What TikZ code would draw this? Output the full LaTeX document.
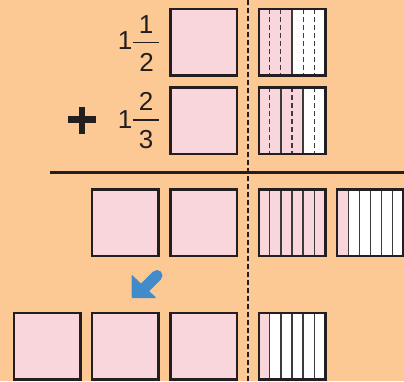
\documentclass[tikz,border=0pt]{standalone}
\usepackage{fontspec}
\setmainfont{Liberation Sans}
\usetikzlibrary{calc}
\definecolor{bgc}{RGB}{252,201,148}
\definecolor{pinkc}{RGB}{249,214,220}
\definecolor{bord}{RGB}{35,31,32}
\definecolor{stripc}{RGB}{60,58,60}
\definecolor{arrowc}{RGB}{66,139,202}
\tikzset{
  sq/.style={minimum size=66.5pt, inner sep=0pt, outer sep=0pt, line width=2.5pt, draw=bord, fill=pinkc},
  sqx/.style={minimum size=66.5pt, inner sep=0pt, outer sep=0pt},
  bordline/.style={line width=2.5pt, draw=bord},
  solidstrip/.style={line width=1.3pt, draw=stripc},
  dashstrip/.style={line width=1.1pt, draw=stripc, dash pattern=on 5pt off 3pt},
  digit/.style={inner sep=0pt, outer sep=0pt, font=\fontsize{26}{26}\selectfont, text=bord},
}
\begin{document}
\begin{tikzpicture}[x=1pt,y=-1pt]
\useasboundingbox (0,0) rectangle (404,381);
\fill[bgc] (0,0) rectangle (404,381);

% divider lines
\coordinate (dtop) at (248,0);
\coordinate (dbot) at (248,381);
\draw[line width=1.2pt, draw=bord, dash pattern=on 5pt off 3pt] (dtop) -- (dbot);
\coordinate (hl) at (50,172);
\coordinate (hr) at (404,172);
\draw[line width=3pt, draw=bord] (hl) -- (hr);

% numbers
\node[digit] (w1) at (125,41) {1};
\node[digit] (n1) at (146,25) {1};
\node[digit] (d1) at (146.5,62.5) {2};
\coordinate (b1l) at (132.5,42.3);
\coordinate (b1r) at (159,42.3);
\draw[line width=1.2pt, draw=bord] (b1l) -- (b1r);

\node[digit] (w2) at (125,119.5) {1};
\node[digit] (n2) at (146,101) {2};
\node[digit] (d2) at (146,139.5) {3};
\coordinate (b2l) at (132.5,120);
\coordinate (b2r) at (159,120);
\draw[line width=1.2pt, draw=bord] (b2l) -- (b2r);

% plus sign
\coordinate (ph1) at (68,119.5);
\coordinate (ph2) at (96,119.5);
\coordinate (pv1) at (82,106.5);
\coordinate (pv2) at (82,133.5);
\draw[line width=6.2pt, draw=bord] (ph1) -- (ph2);
\draw[line width=6.2pt, draw=bord] (pv1) -- (pv2);

% plain squares
\node[sq] (a1) at (203.6,42.2) {};
\node[sq] (a2) at (203.6,120.5) {};
\node[sq] (c3) at (125,222.7) {};
\node[sq] (d3) at (203.6,222.7) {};
\node[sq] (b4) at (47,346.2) {};
\node[sq] (c4) at (125,346.2) {};
\node[sq] (d4) at (203.6,346.2) {};

% strip squares
\newcommand{\stripbox}[5]{%
  % #1 name, #2 position, #3 pink count, #4 solid list, #5 dashed list
  \node[sqx] (#1) at (#2) {};
  \fill[white] (#1.north west) rectangle (#1.south east);
  \fill[pinkc] (#1.north west) rectangle ($(#1.south west)!#3/6!(#1.south east)$);
  \foreach \k in {#4} {\draw[solidstrip] ($(#1.north west)!\k/6!(#1.north east)$) -- ($(#1.south west)!\k/6!(#1.south east)$);}
  \foreach \k in {#5} {\draw[dashstrip] ($(#1.north west)!\k/6!(#1.north east)$) -- ($(#1.south west)!\k/6!(#1.south east)$);}
  \draw[bordline] (#1.north west) rectangle (#1.south east);
}
\stripbox{s1}{292,42.2}{3}{3}{1,2,4,5}
\stripbox{s2}{292,120.5}{4}{2,4}{1,3,5}
\stripbox{s3}{292,222.7}{6}{1,2,3,4,5}{}
\stripbox{s4}{370.4,222.7}{1}{1,2,3,4,5}{}
\stripbox{s5}{292,346.2}{1}{1,2,3,4,5}{}

% blue arrow
\coordinate (at1) at (157,275.5);
\coordinate (at2) at (141,291.5);
\coordinate (ah1) at (131.5,274.5);
\coordinate (ah2) at (131.5,298);
\coordinate (ah3) at (156.5,298);
\draw[line width=11pt, draw=arrowc, line cap=round] (at1) -- (at2);
\fill[arrowc, rounded corners=1pt] (ah1) -- (ah2) -- (ah3) -- cycle;
\end{tikzpicture}
\end{document}
